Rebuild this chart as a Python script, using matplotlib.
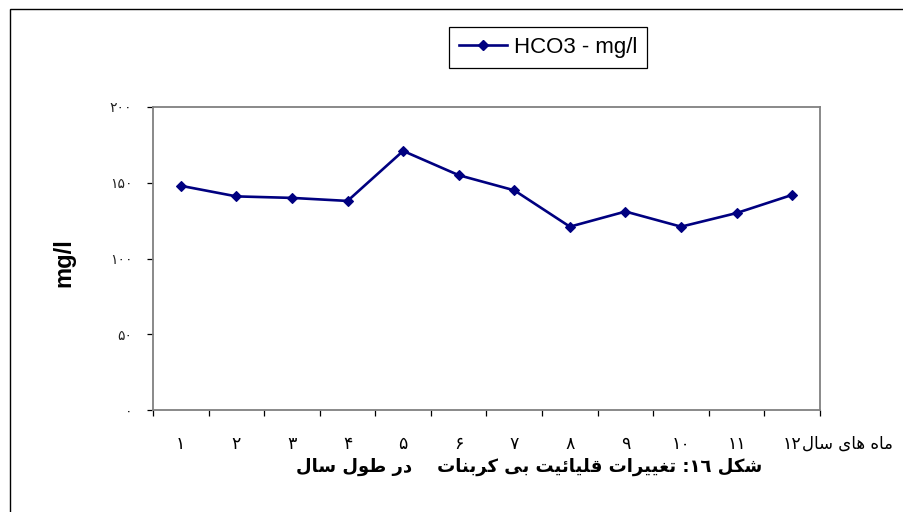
import re
import numpy as np
import matplotlib
matplotlib.use("Agg")
import matplotlib.pyplot as plt
from matplotlib.patches import Rectangle
from matplotlib.lines import Line2D

# ---- data -------------------------------------------------------------
months = ["۱", "۲", "۳", "۴", "۵", "۶", "۷", "۸", "۹", "۱۰", "۱۱", "۱۲"]
hco3 = [148, 141, 140, 138, 171, 155, 145, 121, 131, 121, 130, 142]
y_ticks = [0, 50, 100, 150, 200]
y_tick_labels = ["۰", "۵۰", "۱۰۰", "۱۵۰", "۲۰۰"]
series_label = "HCO3 - mg/l"
y_title = "mg/l"
x_title = "ماه های سال"
caption = "شکل ١٦: تغییرات قلیائیت بی کربنات    در طول سال"

# ---- minimal Arabic-script shaping (isolated, final, initial, medial) --
FORMS = {
    'ا': ('\uFE8D', '\uFE8E', None, None),
    'ب': ('\uFE8F', '\uFE90', '\uFE91', '\uFE92'),
    'ت': ('\uFE95', '\uFE96', '\uFE97', '\uFE98'),
    'د': ('\uFEA9', '\uFEAA', None, None),
    'ر': ('\uFEAD', '\uFEAE', None, None),
    'س': ('\uFEB1', '\uFEB2', '\uFEB3', '\uFEB4'),
    'ش': ('\uFEB5', '\uFEB6', '\uFEB7', '\uFEB8'),
    'ط': ('\uFEC1', '\uFEC2', '\uFEC3', '\uFEC4'),
    'غ': ('\uFECD', '\uFECE', '\uFECF', '\uFED0'),
    'ق': ('\uFED5', '\uFED6', '\uFED7', '\uFED8'),
    'ل': ('\uFEDD', '\uFEDE', '\uFEDF', '\uFEE0'),
    'م': ('\uFEE1', '\uFEE2', '\uFEE3', '\uFEE4'),
    'ن': ('\uFEE5', '\uFEE6', '\uFEE7', '\uFEE8'),
    'ه': ('\uFEE9', '\uFEEA', '\uFEEB', '\uFEEC'),
    'و': ('\uFEED', '\uFEEE', None, None),
    'ئ': ('\uFE89', '\uFE8A', '\uFE8B', '\uFE8C'),
    'ی': ('\uFBFC', '\uFBFD', '\uFBFE', '\uFBFF'),
    'ک': ('\uFB8E', '\uFB8F', '\uFB90', '\uFB91'),
}
DIGITS = r'[0-9\u0660-\u0669\u06F0-\u06F9]+'


def rtl(text):
    """Join letters contextually and reorder right-to-left for display."""
    out = []
    for i, ch in enumerate(text):
        f = FORMS.get(ch)
        if f is None:
            out.append(ch)
            continue
        prev = text[i - 1] if i > 0 else ''
        nxt = text[i + 1] if i + 1 < len(text) else ''
        join_prev = prev in FORMS and FORMS[prev][2] is not None
        join_next = f[2] is not None and nxt in FORMS
        if join_prev and join_next:
            out.append(f[3])
        elif join_prev:
            out.append(f[1])
        elif join_next:
            out.append(f[2])
        else:
            out.append(f[0])
    runs = re.findall(DIGITS + r'|.', ''.join(out))
    return ''.join(reversed(runs))


# ---- figure -----------------------------------------------------------
W, H = 904, 512
fig = plt.figure(figsize=(W / 100, H / 100), dpi=100)
fig.patch.set_facecolor("white")


def fx(px):
    return px / W


def fy(py):
    return 1 - py / H


# outer frame line around the chart area
fig.add_artist(Rectangle((fx(9.5), -0.05), 1.2, fy(8.5) + 0.05,
                         transform=fig.transFigure, fill=False,
                         edgecolor="black", linewidth=1.0))

ax = fig.add_axes([fx(153), fy(410), fx(820) - fx(153), fy(107) - fy(410)])
n = len(months)
centers = np.arange(n) + 0.5

ax.plot(centers, hco3, color="#000080", linewidth=1.9, marker="D",
        markersize=5.5, markeredgewidth=0.8, markerfacecolor="#000080",
        markeredgecolor="#000080")

ax.set_xlim(0, n)
ax.set_ylim(0, 200)

for side in ["left", "right", "top", "bottom"]:
    ax.spines[side].set_color("#808080")
    ax.spines[side].set_linewidth(1.3)

# category boundaries carry the tick marks, centres carry the labels
ax.set_xticks(np.arange(n + 1))
ax.set_xticklabels([])
ax.set_xticks(centers, labels=months, minor=True)
ax.tick_params(axis="x", which="major", direction="out", length=4,
               width=0.9, color="black")
ax.tick_params(axis="x", which="minor", length=0, pad=18, labelsize=12.5)

ax.set_yticks(y_ticks, labels=y_tick_labels)
ax.tick_params(axis="y", direction="out", length=4, width=0.9,
               color="black", pad=11, labelsize=10, labelcolor="#222222")

for lab in ax.get_xticklabels(minor=True):
    lab.set_fontfamily("DejaVu Sans")

# axis titles
fig.text(fx(802), fy(444), rtl(x_title), ha="left", va="center",
         fontsize=12, family="DejaVu Sans")
fig.text(fx(64), fy(263), y_title, rotation=90, ha="center", va="center",
         fontsize=17, fontweight="bold", family="Liberation Sans")

# caption under the chart
fig.text(fx(529), fy(467), rtl(caption), ha="center", va="center",
         fontsize=13, fontweight="bold", family="DejaVu Sans")

# legend
handle = Line2D([], [], color="#000080", linewidth=1.9, marker="D",
                markersize=5.5, markerfacecolor="#000080")
leg = fig.legend([handle], [series_label], loc="center",
                 bbox_to_anchor=(fx(548), fy(47)),
                 frameon=True, fancybox=False, shadow=False,
                 framealpha=1, edgecolor="black", borderpad=0.45,
                 handlelength=2.2, handletextpad=0.3,
                 prop={"family": "Liberation Sans", "size": 16})
leg.get_frame().set_linewidth(0.9)

fig.savefig("out.png", dpi=100, facecolor="white")
